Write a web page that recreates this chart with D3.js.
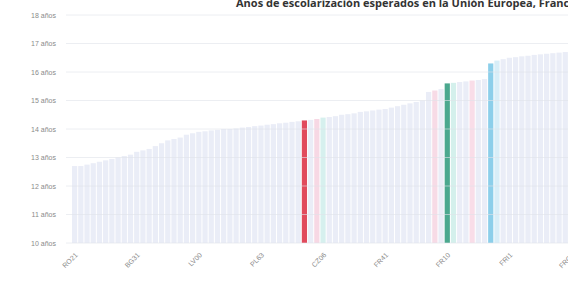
<!DOCTYPE html>
<html>
<head>
<meta charset="utf-8">
<script src="https://cdn.jsdelivr.net/npm/d3@7"></script>
<style>
  body { margin: 0; background: #fff; }
  svg { font-family: "Open Sans", sans-serif; }
</style>
</head>
<body>
<div id="chart"></div>
<script>
const regions = [
  "RO21","BG33","RO31","BG42","RO41","HU31","SK04","PL84","HU32","RO22",
  "BG31","PL62","HU23","SK03","PL72","CZ04","PL81","HR04","LT02","PL82",
  "LV00","SK02","EE00","PL71","HU33","CZ08","PL43","PL52","CZ05","HU21",
  "PL63","PL42","SI03","CZ07","PL61","PT11","DE80","ES30","DE40","PL51",
  "CZ06","DEE0","PT15","CZ03","BE32","DED4","HU11","PL92","DE30","ES61",
  "FR41","SI04","ITC4","FRE1","BE33","DEB3","ITH3","ES21","FRK2","AT12",
  "FR10","ITI4","DK01","ES51","SE11","FRL0","IE06","LU00","NL32","ES22",
  "FRI1","AT13","NL41","SE22","FI1B","DE21","FRJ2","NL33","DE71","SE23",
  "FRG0","DK03","ES53","FI19","BE10","ITF3","NL31","SE12","FRH0","CH01"
];
// años, leídos a ojo del gráfico
const values = [
  12.7,12.7,12.75,12.8,12.85,12.9,12.95,13.0,13.05,13.1,
  13.2,13.25,13.3,13.4,13.5,13.6,13.65,13.7,13.8,13.85,
  13.9,13.92,13.95,13.97,14.0,14.0,14.02,14.05,14.07,14.1,
  14.12,14.15,14.17,14.2,14.22,14.25,14.27,14.3,14.32,14.35,
  14.4,14.42,14.45,14.5,14.52,14.55,14.6,14.62,14.65,14.68,
  14.7,14.75,14.8,14.85,14.9,14.95,15.0,15.3,15.35,15.4,
  15.6,15.62,15.65,15.67,15.7,15.72,15.75,16.3,16.4,16.45,
  16.5,16.52,16.55,16.57,16.6,16.62,16.64,16.66,16.68,16.7,
  16.72,16.74,16.76,16.78,16.8,16.82,16.84,16.86,16.88,16.9
];
const highlight = { "ES30": "#e14a5c", "FR10": "#4ba88e", "LU00": "#8ccfea" };
const tinted = { "PL51": "#f7d8e4", "CZ06": "#d6f0ee", "FRK2": "#f7dbe6", "ITI4": "#d4f0ec", "SE11": "#f9dde8", "NL32": "#d8eef8" };
const tickValues = [10, 11, 12, 13, 14, 15, 16, 17, 18];
const title = "Años de escolarización esperados en la Unión Europea, Francia y la Comunidad de Madrid";

const W = 568, H = 285;
const margin = { top: 15, left: 66, bottom: 42 };
const plotH = H - margin.top - margin.bottom;

const svg = d3.select("#chart").append("svg")
  .attr("width", W).attr("height", H);

const x = d3.scaleBand().domain(regions)
  .range([72, 72 + regions.length * 6.2]).paddingInner(0.16);
const y = d3.scaleLinear().domain([10, 18]).range([margin.top + plotH, margin.top]);

svg.append("g").selectAll("rect").data(regions).join("rect")
  .attr("x", d => x(d))
  .attr("width", x.bandwidth())
  .attr("y", (d, i) => y(values[i]))
  .attr("height", (d, i) => y(10) - y(values[i]))
  .attr("fill", d => highlight[d] || tinted[d] || "#eaedf7");

// grid on top, faint
svg.append("g").selectAll("line").data(tickValues).join("line")
  .attr("x1", margin.left).attr("x2", W)
  .attr("y1", d => y(d)).attr("y2", d => y(d))
  .attr("stroke", "#dfe2ea").attr("stroke-opacity", 0.6).attr("stroke-width", 1);

// y axis
const yAxis = svg.append("g")
  .attr("transform", `translate(${margin.left},0)`)
  .call(d3.axisLeft(y).tickValues(tickValues).tickFormat(d => d + " años").tickSize(0).tickPadding(10));
yAxis.select(".domain").remove();
yAxis.selectAll("text").attr("fill", "#8a8a8a").style("font-size", "7px");

// x axis
const xAxis = svg.append("g")
  .attr("transform", `translate(0,${y(10) + 6})`)
  .call(d3.axisBottom(x).tickValues(regions.filter((d, i) => i % 10 === 0)).tickSize(0));
xAxis.select(".domain").remove();
xAxis.selectAll("text")
  .attr("fill", "#8a8a8a").style("font-size", "7px")
  .attr("text-anchor", "end")
  .attr("transform", "rotate(-45)")
  .attr("dx", "-0.3em").attr("dy", "0.6em");

svg.append("text")
  .attr("x", 236).attr("y", 7)
  .attr("fill", "#333").style("font-size", "11px").style("font-weight", "bold")
  .text(title);
</script>
</body>
</html>
